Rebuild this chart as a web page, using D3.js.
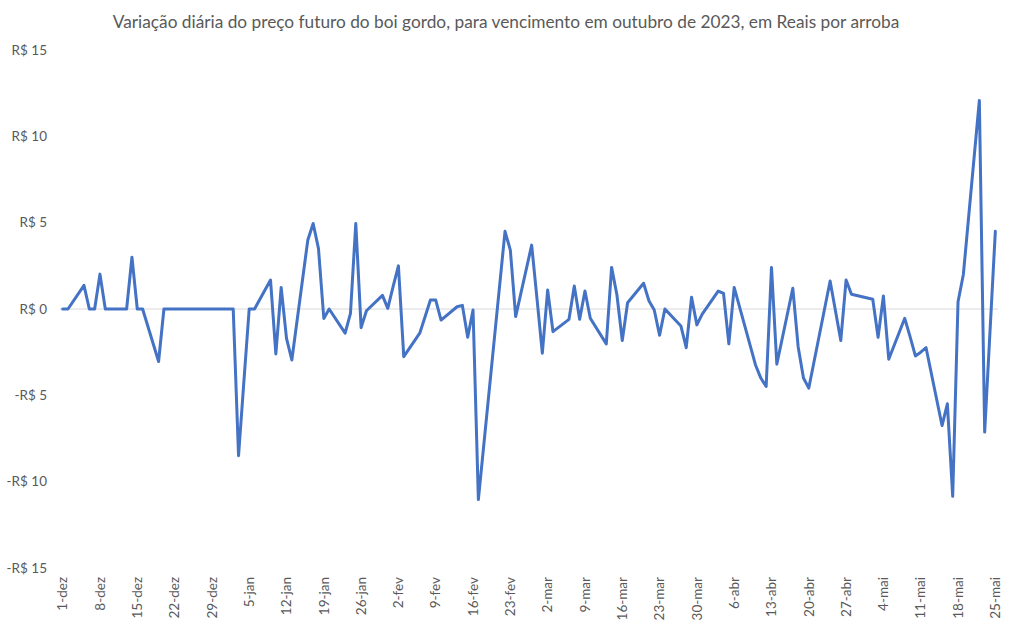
<!DOCTYPE html>
<html>
<head>
<meta charset="utf-8">
<script src="https://cdn.jsdelivr.net/npm/d3@7"></script>
<style>
  body { margin: 0; background: #fff; }
  svg text { font-family: Lato, "Open Sans", sans-serif; fill: #595959; }
</style>
</head>
<body>
<svg id="chart" width="1012" height="630"></svg>
<script>
const title = "Variação diária do preço futuro do boi gordo, para vencimento em outubro de 2023, em Reais por arroba";

// trading days (dez/2022 - mai/2023)
const dates = [
  "2022-12-01","2022-12-02","2022-12-05","2022-12-06","2022-12-07","2022-12-08","2022-12-09",
  "2022-12-12","2022-12-13","2022-12-14","2022-12-15","2022-12-16","2022-12-19","2022-12-20",
  "2022-12-21","2022-12-22","2022-12-23","2022-12-26","2022-12-27","2022-12-28","2022-12-29",
  "2023-01-02","2023-01-03","2023-01-04","2023-01-05","2023-01-06","2023-01-09","2023-01-10",
  "2023-01-11","2023-01-12","2023-01-13","2023-01-16","2023-01-17","2023-01-18","2023-01-19",
  "2023-01-20","2023-01-23","2023-01-24","2023-01-25","2023-01-26","2023-01-27","2023-01-30",
  "2023-01-31","2023-02-01","2023-02-02","2023-02-03","2023-02-06","2023-02-07","2023-02-08",
  "2023-02-09","2023-02-10","2023-02-13","2023-02-14","2023-02-15","2023-02-16","2023-02-17",
  "2023-02-22","2023-02-23","2023-02-24","2023-02-27","2023-02-28","2023-03-01","2023-03-02",
  "2023-03-03","2023-03-06","2023-03-07","2023-03-08","2023-03-09","2023-03-10","2023-03-13",
  "2023-03-14","2023-03-15","2023-03-16","2023-03-17","2023-03-20","2023-03-21","2023-03-22",
  "2023-03-23","2023-03-24","2023-03-27","2023-03-28","2023-03-29","2023-03-30","2023-03-31",
  "2023-04-03","2023-04-04","2023-04-05","2023-04-06","2023-04-10","2023-04-11","2023-04-12",
  "2023-04-13","2023-04-14","2023-04-17","2023-04-18","2023-04-19","2023-04-20","2023-04-24",
  "2023-04-25","2023-04-26","2023-04-27","2023-04-28","2023-05-02","2023-05-03","2023-05-04",
  "2023-05-05","2023-05-08","2023-05-09","2023-05-10","2023-05-11","2023-05-12","2023-05-15",
  "2023-05-16","2023-05-17","2023-05-18","2023-05-19","2023-05-22","2023-05-23","2023-05-24",
  "2023-05-25"
];

// variação diária, R$/@
const values = [
  0, 0, 1.37, 0, 0, 2.02, 0,
  0, 0, 3.0, 0, 0, -3.04, 0,
  0, 0, 0, 0, 0, 0, 0,
  0, -8.5, -4.2, 0, 0, 1.68, -2.6,
  1.25, -1.7, -2.95, 4.0, 4.95, 3.5, -0.55,
  0, -1.4, -0.25, 4.95, -1.08, -0.1, 0.79,
  0.04, 1.3, 2.5, -2.76, -1.4, -0.45, 0.52,
  0.52, -0.64, 0.13, 0.21, -1.64, -0.06, -11.04,
  4.5, 3.41, -0.44, 3.7, 0.6, -2.56, 1.1,
  -1.31, -0.6, 1.33, -0.6, 1.04, -0.54, -2.02,
  2.41, 0.81, -1.83, 0.36, 1.49, 0.48, -0.06,
  -1.52, 0, -0.98, -2.24, 0.68, -0.92, -0.3,
  1.04, 0.9, -2.02, 1.25, -3.24, -4.0, -4.49,
  2.41, -3.2, 1.2, -2.18, -4.0, -4.58, 1.62,
  -0.1, -1.83, 1.68, 0.85, 0.56, -1.64, 0.75,
  -2.91, -0.54, -1.6, -2.72, -2.5, -2.24, -6.75,
  -5.49, -10.85, 0.42, 2.0, 12.08, -7.13, -1.3,
  4.5
];

const yTicks = [15, 10, 5, 0, -5, -10, -15];
const monthNames = ["jan","fev","mar","abr","mai","jun","jul","ago","set","out","nov","dez"];

const svg = d3.select("#chart");
const parse = d3.timeParse("%Y-%m-%d");
const mid = d => d3.timeHour.offset(d, 12); // points sit in the middle of each day

const data = dates.map((d, i) => ({date: parse(d), value: values[i]}));
const first = parse(dates[0]);
const last = d3.timeDay.offset(parse(dates[dates.length - 1]), 1);

const x = d3.scaleTime().domain([first, last]).range([60, 998]);
const y = d3.scaleLinear().domain([-15, 15]).range([568, 50]);

// title, sized to match the reference width
const t = svg.append("text")
    .attr("x", 506)
    .attr("y", 28)
    .attr("text-anchor", "middle")
    .style("font-size", "16px")
    .text(title);
const tw = t.node().getComputedTextLength();
t.style("font-size", (16 * 787 / tw).toFixed(2) + "px");

// zero line
svg.append("line")
    .attr("x1", 60).attr("x2", 998)
    .attr("y1", y(0)).attr("y2", y(0))
    .attr("stroke", "#d9d9d9")
    .attr("stroke-width", 1);

// y labels
const fmtR = v => (v < 0 ? "-R$ " : "R$ ") + Math.abs(v);
svg.append("g")
    .selectAll("text")
    .data(yTicks)
    .join("text")
    .attr("x", 47)
    .attr("y", d => y(d))
    .attr("dy", "0.35em")
    .attr("text-anchor", "end")
    .style("font-size", "13.5px")
    .text(fmtR);

// x labels, weekly from 1-dez
const xTicks = d3.timeDay.range(first, last, 7);
const fmtX = d => d.getDate() + "-" + monthNames[d.getMonth()];
svg.append("g")
    .selectAll("text")
    .data(xTicks)
    .join("text")
    .attr("transform", d => `translate(${x(mid(d))},577) rotate(-90)`)
    .attr("dy", "0.35em")
    .attr("text-anchor", "end")
    .style("font-size", "13.5px")
    .text(fmtX);

// the series
const line = d3.line()
    .x(d => x(mid(d.date)))
    .y(d => y(d.value));

svg.append("path")
    .datum(data)
    .attr("fill", "none")
    .attr("stroke", "#4472c4")
    .attr("stroke-width", 3)
    .attr("stroke-linejoin", "round")
    .attr("stroke-linecap", "round")
    .attr("d", line);
</script>
</body>
</html>
